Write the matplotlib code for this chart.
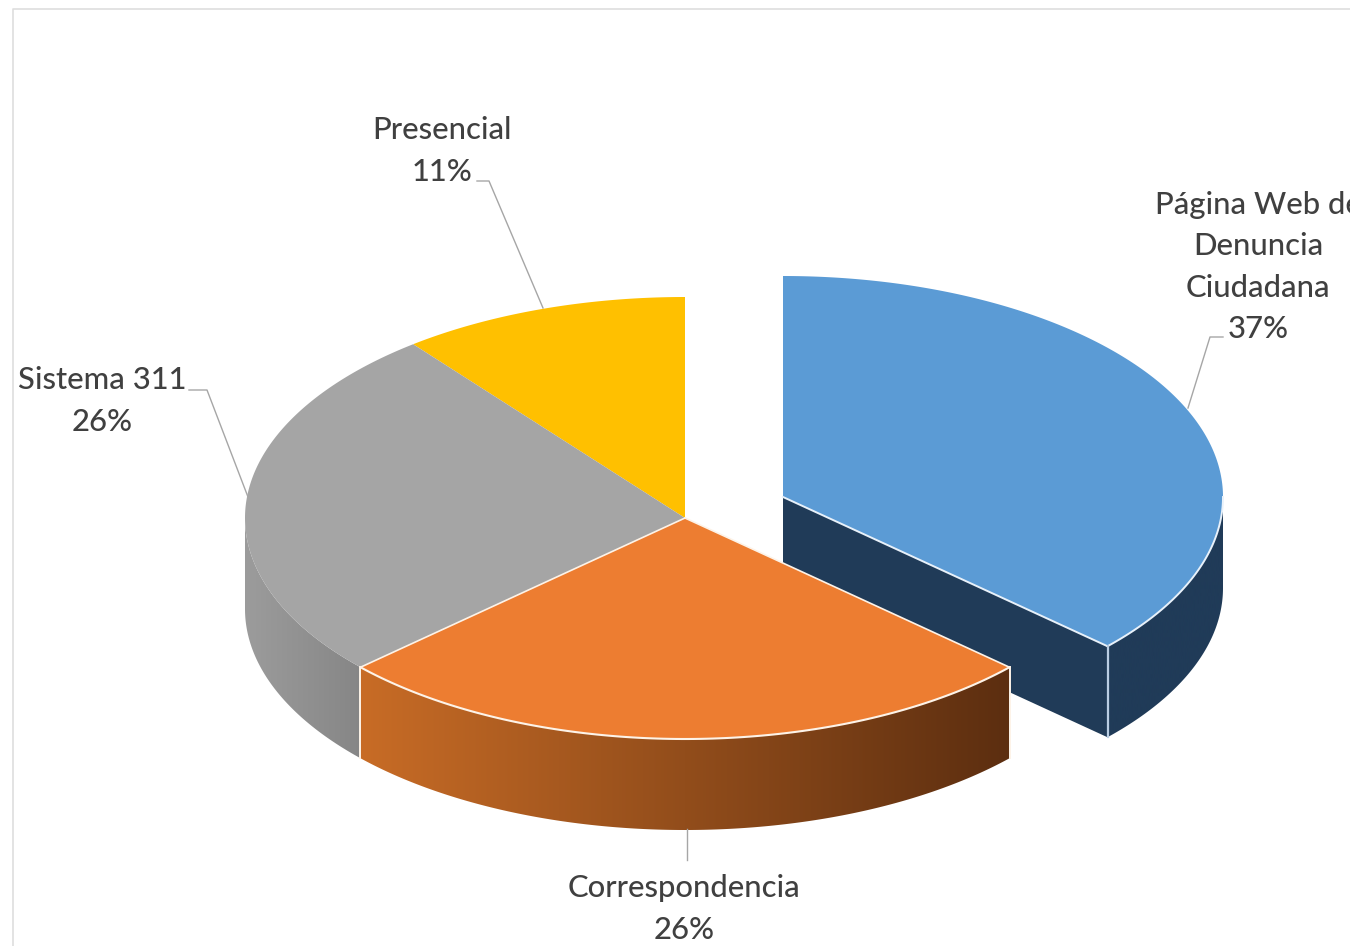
import numpy as np
import matplotlib
matplotlib.use("Agg")
import matplotlib.pyplot as plt
from matplotlib.colors import to_rgb
from matplotlib.patches import Polygon

categories = ["Página Web de\nDenuncia\nCiudadana", "Correspondencia", "Sistema 311", "Presencial"]
shares = [36.8, 26.4, 26.2, 10.6]
shown_percent = [37, 26, 26, 11]
top_colors = ["#5b9bd5", "#ed7d31", "#a5a5a5", "#ffc000"]
side_left = ["#203b58", "#c86c26", "#9c9c9c", "#b08600"]
side_right = ["#203b58", "#5c2e10", "#868686", "#b08600"]
label_xy = [(1258, 267), (684, 909), (102, 401), (442, 151)]
leaders = [[(1223, 337), (1210, 337), (1188, 408)],
           [(687, 860), (687, 829)],
           [(189, 390), (207, 390), (248, 497)],
           [(477, 181), (489, 181), (543, 308)]]

RX, RY, DEPTH = 440, 221, 91
CENTER = (685, 518)
BLUE_CENTER = (783, 497)
SEAM = "#fdf3e8"

plt.rcParams["font.family"] = ["Lato", "DejaVu Sans"]
fig = plt.figure(figsize=(13.5, 9.46), dpi=100)
ax = fig.add_axes([0, 0, 1, 1])
ax.axis("off")

ax.plot([13, 13, 1350], [946, 9, 9], color="#dedede", lw=1.2, zorder=1)

def rim(c, deg):
    t = np.radians(deg)
    return c[0] + RX * np.sin(t), c[1] - RY * np.cos(t)

edges = np.concatenate([[0], np.cumsum(shares)]) / sum(shares) * 360
centers = [BLUE_CENTER, CENTER, CENTER, CENTER]

# blue cut face (from centre to the front corner), behind everything
cx, cy = BLUE_CENTER
x1, y1 = rim(BLUE_CENTER, edges[1])
ax.fill([cx, x1, x1, cx], [cy, y1, y1 + DEPTH, cy + DEPTH], color=side_left[0], lw=0, zorder=2)

# outer sides: a horizontal gradient clipped to the visible rim band
def draw_side(i, z):
    c = centers[i]
    vis = np.linspace(max(edges[i], 90), min(edges[i + 1], 270), 240)
    xs, ys = rim(c, vis)
    lo, hi = xs.min(), xs.max()
    ramp = np.linspace(0, 1, 512)[None, :, None]
    L, R = np.array(to_rgb(side_left[i])), np.array(to_rgb(side_right[i]))
    img = ax.imshow(L + (R - L) * ramp, extent=(lo, hi, 946, 0), aspect="auto",
                    zorder=z, interpolation="bilinear")
    band = Polygon(np.c_[np.r_[xs, xs[::-1]], np.r_[ys, ys[::-1] + DEPTH]],
                   closed=True, transform=ax.transData)
    img.set_clip_path(band)

draw_side(0, 2.5)
draw_side(2, 3)
draw_side(1, 4)

# top faces
for i in [0, 3, 2, 1]:
    c = centers[i]
    arc = np.linspace(edges[i], edges[i + 1], 200)
    ax_x, ax_y = rim(c, arc)
    ax.fill(np.r_[c[0], ax_x], np.r_[c[1], ax_y], color=top_colors[i], lw=0, zorder=5 + (i == 1))

# light seams
x2, y2 = rim(BLUE_CENTER, edges[1])
arc = np.linspace(90, edges[1], 80)
ax.plot(*rim(BLUE_CENTER, arc), color="#e8f1fa", lw=1.4, zorder=7)
ax.plot([cx, x2], [cy, y2], color="#e8f1fa", lw=1.4, zorder=7)
ax.plot([x2, x2], [y2, y2 + DEPTH], color="#b9cde3", lw=1.6, zorder=7)

arc = np.linspace(edges[1], edges[2], 120)
ax.plot(*rim(CENTER, arc), color=SEAM, lw=1.5, zorder=7)
for e in (edges[1], edges[2]):
    xe, ye = rim(CENTER, e)
    ax.plot([CENTER[0], xe], [CENTER[1], ye], color=SEAM, lw=1.2, zorder=7)
    ax.plot([xe, xe], [ye, ye + DEPTH], color=SEAM, lw=1.4, zorder=7)

# leaders and labels
for path in leaders:
    ax.plot(*zip(*path), color="#a6a6a6", lw=1.0, zorder=8)
for name, pct, (lx, ly) in zip(categories, shown_percent, label_xy):
    ax.text(lx, ly, f"{name}\n{pct}%", ha="center", va="center", fontsize=22.3,
            fontweight="medium", color="#404040", linespacing=1.57, zorder=9, clip_on=False)

ax.set_xlim(0, 1350)
ax.set_ylim(946, 0)
fig.savefig("out.png", dpi=100, facecolor="white")
